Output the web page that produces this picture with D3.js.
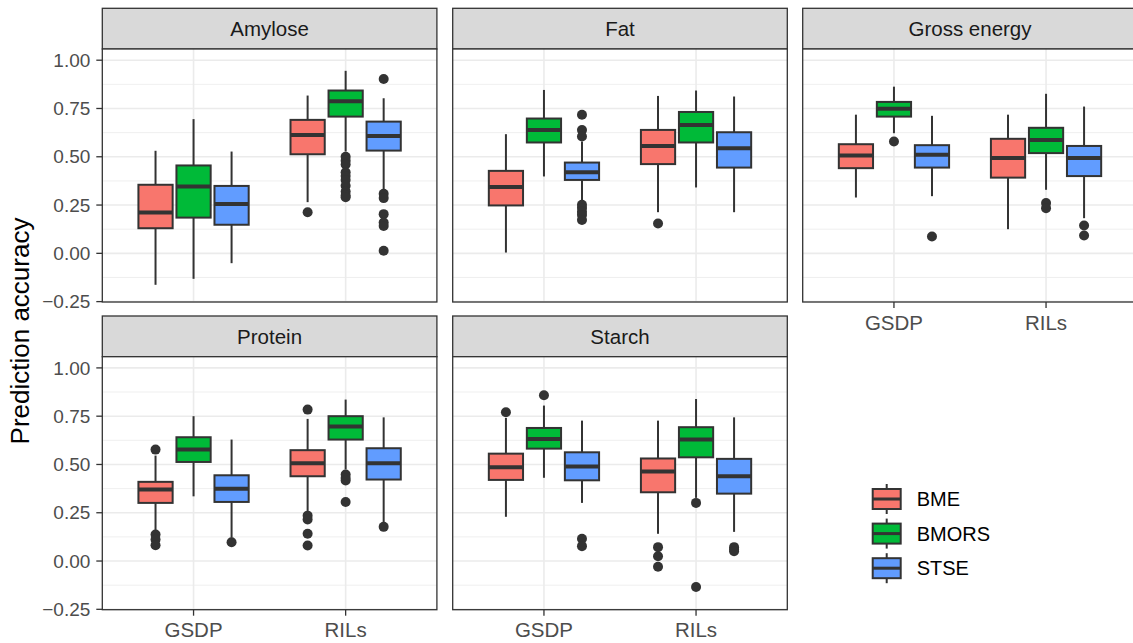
<!DOCTYPE html>
<html>
<head>
<meta charset="utf-8">
<script src="https://cdn.jsdelivr.net/npm/d3@7"></script>
<style>
  body { margin: 0; background: #fff; }
  text { font-family: "Liberation Sans", Arial, sans-serif; }
</style>
</head>
<body>
<script>
// facets, groups and methods
var traits = ["Amylose", "Fat", "Gross energy", "Protein", "Starch"];
var populations = ["GSDP", "RILs"];
var methods = ["BME", "BMORS", "STSE"];
var yTicks = [-0.25, 0, 0.25, 0.5, 0.75, 1.0];

// box stats, ordered trait -> population -> method
var whiskerLow = [
  -0.163, -0.132, -0.051,   0.265, 0.527, 0.329,   // Amylose
   0.004,  0.398,  0.260,   0.213, 0.341, 0.213,   // Fat
   0.289,  0.622,  0.296,   0.125, 0.329, 0.182,   // Gross energy
   0.154,  0.335,  0.120,   0.249, 0.474, 0.198,   // Protein
   0.229,  0.431,  0.301,   0.141, 0.327, 0.151    // Starch
];
var q1 = [
  0.130, 0.185, 0.148,   0.513, 0.708, 0.532,
  0.248, 0.574, 0.380,   0.462, 0.574, 0.444,
  0.441, 0.708, 0.444,   0.392, 0.519, 0.400,
  0.301, 0.513, 0.306,   0.439, 0.629, 0.422,
  0.420, 0.582, 0.418,   0.356, 0.537, 0.349
];
var median = [
  0.211, 0.346, 0.255,   0.613, 0.788, 0.608,
  0.343, 0.638, 0.420,   0.556, 0.665, 0.544,
  0.506, 0.748, 0.510,   0.493, 0.587, 0.493,
  0.370, 0.577, 0.374,   0.506, 0.696, 0.506,
  0.486, 0.632, 0.489,   0.463, 0.629, 0.439
];
var q3 = [
  0.355, 0.455, 0.349,   0.691, 0.843, 0.682,
  0.427, 0.698, 0.470,   0.639, 0.732, 0.627,
  0.565, 0.784, 0.560,   0.593, 0.650, 0.556,
  0.410, 0.641, 0.444,   0.574, 0.750, 0.584,
  0.556, 0.689, 0.563,   0.531, 0.693, 0.529
];
var whiskerHigh = [
  0.531, 0.695, 0.527,   0.817, 0.945, 0.803,
  0.617, 0.846, 0.579,   0.815, 0.843, 0.812,
  0.718, 0.863, 0.712,   0.718, 0.826, 0.760,
  0.546, 0.750, 0.629,   0.736, 0.836, 0.744,
  0.741, 0.805, 0.727,   0.727, 0.839, 0.744
];
var outliers = [
  [], [], [],
  [0.213], [0.50, 0.48, 0.46, 0.42, 0.40, 0.38, 0.35, 0.32, 0.30, 0.29], [0.903, 0.308, 0.286, 0.203, 0.159, 0.142, 0.013],
  [], [], [0.718, 0.638, 0.605, 0.251, 0.235, 0.215, 0.199, 0.173],
  [0.154], [], [],
  [], [0.579], [0.087],
  [], [0.260, 0.234], [0.144, 0.092],
  [0.577, 0.137, 0.111, 0.082], [], [0.097],
  [0.784, 0.235, 0.215, 0.141, 0.080], [0.448, 0.430, 0.417, 0.306], [0.177],
  [0.770], [0.858], [0.115, 0.077],
  [0.072, 0.025, -0.030], [0.301, -0.134], [0.072, 0.060, 0.051]
];

var colors = ["#F8766D", "#00BA38", "#619CFF"];

var W = 1133, H = 643;
var panelW = 334.6, panelH = 253, stripH = 40.7;
var colX = [102.3, 452.7, 802.7];
var rowTop = [49, 356.7];  // top of plotting area

var svg = d3.select("body").append("svg").attr("width", W).attr("height", H);

var y = d3.scaleLinear().domain([-0.252, 1.058]).range([panelH, 0]);
var x = d3.scaleBand().domain(populations).range([0, panelW]).paddingInner(0).paddingOuter(0.1);
var xm = d3.scaleBand().domain(methods).range([-0.375 * x.step(), 0.375 * x.step()]);
var boxW = xm.bandwidth() * 0.9;

var minorTicks = d3.range(yTicks.length - 1).map(function(i) { return (yTicks[i] + yTicks[i + 1]) / 2; });

// build box rows
var rows = [];
traits.forEach(function(t, ti) {
  populations.forEach(function(p, pi) {
    methods.forEach(function(m, mi) {
      var k = ti * 6 + pi * 3 + mi;
      rows.push({trait: t, pop: p, method: m, mi: mi,
        lo: whiskerLow[k], q1: q1[k], med: median[k], q3: q3[k], hi: whiskerHigh[k], out: outliers[k]});
    });
  });
});

var panels = svg.selectAll("g.panel").data(traits).enter().append("g")
  .attr("class", "panel")
  .attr("transform", function(d, i) { return "translate(" + colX[i % 3] + "," + rowTop[Math.floor(i / 3)] + ")"; });

// strip
panels.append("rect")
  .attr("x", 0).attr("y", -stripH).attr("width", panelW).attr("height", stripH)
  .attr("fill", "#D9D9D9").attr("stroke", "#333333").attr("stroke-width", 1.3);
panels.append("text")
  .attr("x", panelW / 2).attr("y", -stripH / 2).attr("dy", "0.35em")
  .attr("text-anchor", "middle").attr("font-size", 20.5).attr("fill", "#1A1A1A")
  .text(function(d) { return d; });

// panel background + grid
panels.append("rect").attr("width", panelW).attr("height", panelH).attr("fill", "#fff");
panels.selectAll("line.minor").data(minorTicks).enter().append("line")
  .attr("x1", 0).attr("x2", panelW)
  .attr("y1", function(d) { return y(d); }).attr("y2", function(d) { return y(d); })
  .attr("stroke", "#EBEBEB").attr("stroke-width", 0.8);
panels.selectAll("line.major").data(yTicks).enter().append("line")
  .attr("x1", 0).attr("x2", panelW)
  .attr("y1", function(d) { return y(d); }).attr("y2", function(d) { return y(d); })
  .attr("stroke", "#EBEBEB").attr("stroke-width", 1.6);
panels.selectAll("line.vmajor").data(populations).enter().append("line")
  .attr("x1", function(d) { return x(d) + x.bandwidth() / 2; })
  .attr("x2", function(d) { return x(d) + x.bandwidth() / 2; })
  .attr("y1", 0).attr("y2", panelH)
  .attr("stroke", "#EBEBEB").attr("stroke-width", 1.6);

// boxes
var boxes = panels.selectAll("g.box")
  .data(function(t) { return rows.filter(function(r) { return r.trait === t; }); })
  .enter().append("g")
  .attr("transform", function(d) { return "translate(" + (x(d.pop) + x.bandwidth() / 2 + xm(d.method) + xm.bandwidth() / 2) + ",0)"; });

boxes.append("line").attr("x1", 0).attr("x2", 0)
  .attr("y1", function(d) { return y(d.hi); }).attr("y2", function(d) { return y(d.q3); })
  .attr("stroke", "#333333").attr("stroke-width", 2);
boxes.append("line").attr("x1", 0).attr("x2", 0)
  .attr("y1", function(d) { return y(d.q1); }).attr("y2", function(d) { return y(d.lo); })
  .attr("stroke", "#333333").attr("stroke-width", 2);
boxes.append("rect")
  .attr("x", -boxW / 2).attr("width", boxW)
  .attr("y", function(d) { return y(d.q3); })
  .attr("height", function(d) { return y(d.q1) - y(d.q3); })
  .attr("fill", function(d) { return colors[d.mi]; })
  .attr("stroke", "#333333").attr("stroke-width", 2);
boxes.append("line").attr("x1", -boxW / 2).attr("x2", boxW / 2)
  .attr("y1", function(d) { return y(d.med); }).attr("y2", function(d) { return y(d.med); })
  .attr("stroke", "#333333").attr("stroke-width", 4);
boxes.selectAll("circle").data(function(d) { return d.out; }).enter().append("circle")
  .attr("cx", 0).attr("cy", function(v) { return y(v); }).attr("r", 5)
  .attr("fill", "#333333");

// panel border
panels.append("rect").attr("width", panelW).attr("height", panelH)
  .attr("fill", "none").attr("stroke", "#333333").attr("stroke-width", 1.3);

// y axes on first column
panels.filter(function(d, i) { return i % 3 === 0; }).each(function() {
  var g = d3.select(this).append("g");
  g.selectAll("line").data(yTicks).enter().append("line")
    .attr("x1", -6).attr("x2", 0)
    .attr("y1", function(d) { return y(d); }).attr("y2", function(d) { return y(d); })
    .attr("stroke", "#333333").attr("stroke-width", 1.3);
  g.selectAll("text").data(yTicks).enter().append("text")
    .attr("x", -12).attr("y", function(d) { return y(d); }).attr("dy", "0.35em")
    .attr("text-anchor", "end").attr("font-size", 19).attr("fill", "#4D4D4D")
    .text(d3.format(".2f"));
});

// x axes on panels with nothing below
panels.filter(function(d, i) { return i >= 2; }).each(function() {
  var g = d3.select(this).append("g").attr("transform", "translate(0," + panelH + ")");
  g.selectAll("line").data(populations).enter().append("line")
    .attr("x1", function(d) { return x(d) + x.bandwidth() / 2; })
    .attr("x2", function(d) { return x(d) + x.bandwidth() / 2; })
    .attr("y1", 0).attr("y2", 6)
    .attr("stroke", "#333333").attr("stroke-width", 1.3);
  g.selectAll("text").data(populations).enter().append("text")
    .attr("x", function(d) { return x(d) + x.bandwidth() / 2; })
    .attr("y", 27.5).attr("text-anchor", "middle")
    .attr("font-size", 20.5).attr("fill", "#4D4D4D")
    .text(function(d) { return d; });
});

// y title
svg.append("text")
  .attr("transform", "translate(29,331) rotate(-90)")
  .attr("text-anchor", "middle").attr("font-size", 26).attr("fill", "#000")
  .text("Prediction accuracy");

// legend
var legend = svg.append("g").attr("transform", "translate(872.7,499)");
var keys = legend.selectAll("g").data(methods).enter().append("g")
  .attr("transform", function(d, i) { return "translate(0," + (i * 34.6) + ")"; });
keys.append("line").attr("x1", 14).attr("x2", 14).attr("y1", -15).attr("y2", 15)
  .attr("stroke", "#333333").attr("stroke-width", 2);
keys.append("rect").attr("x", 0).attr("y", -10).attr("width", 28).attr("height", 20)
  .attr("fill", function(d, i) { return colors[i]; })
  .attr("stroke", "#333333").attr("stroke-width", 2);
keys.append("line").attr("x1", 0).attr("x2", 28).attr("y1", 0).attr("y2", 0)
  .attr("stroke", "#333333").attr("stroke-width", 3);
keys.append("text").attr("x", 44).attr("y", 0).attr("dy", "0.35em")
  .attr("font-size", 20).attr("fill", "#000")
  .text(function(d) { return d; });
</script>
</body>
</html>
